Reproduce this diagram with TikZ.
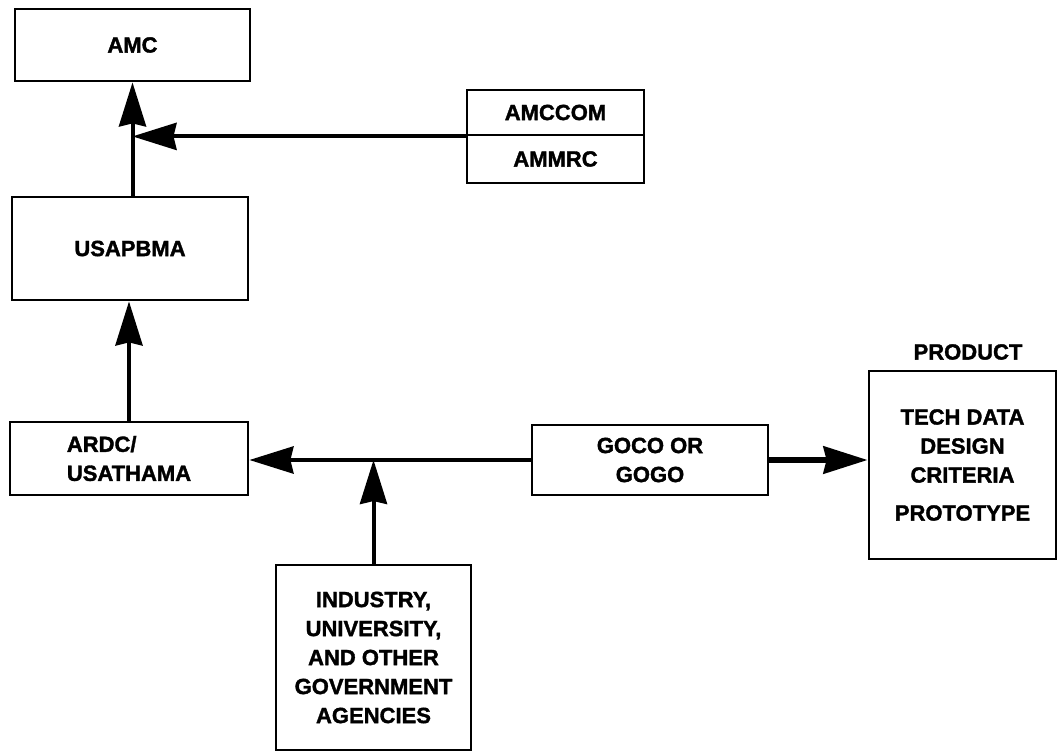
\documentclass[tikz,border=0pt]{standalone}
\usepackage{fontspec}
\setmainfont{Liberation Sans}[BoldFeatures={FakeBold=1.6}]
\usetikzlibrary{arrows.meta}
\begin{document}
\begin{tikzpicture}[x=1pt,y=-1pt,
  font=\fontsize{22}{29}\selectfont\bfseries,
  box/.style={draw, line width=2.8pt, inner sep=0pt, align=center},
  conn/.style={line width=4pt, -{Stealth[length=44pt,width=27pt,inset=3pt]}}]
\useasboundingbox (0,0) rectangle (1058,753);
\node[box, minimum width=235, minimum height=72] (amc) at (132.5,45) {AMC};
\node[box, minimum width=177, minimum height=45] (amccom) at (555.5,112.5) {AMCCOM};
\node[box, minimum width=177, minimum height=48] (ammrc) at (555.5,159) {AMMRC};
\node[box, minimum width=236, minimum height=103] (usap) at (130,248.5) {USAPBMA};
\node[box, align=left, minimum width=238, minimum height=73] (ardc) at (129,458.5) {ARDC/\\USATHAMA};
\node[box, minimum width=236, minimum height=70] (goco) at (650,460) {GOCO OR\\GOGO};
\node[box, minimum width=195, minimum height=185] (ind) at (373.5,657.5) {INDUSTRY,\\UNIVERSITY,\\AND OTHER\\GOVERNMENT\\AGENCIES};
\node[box, minimum width=187, minimum height=188] (prod) at (962.5,465) {TECH DATA\\DESIGN\\CRITERIA\\[9pt]PROTOTYPE};
\node (prodlabel) at (968,352) {PRODUCT};
\draw[conn] (usap.north -| amc.south) -- (amc.south);
\draw[conn] (amccom.south west) -- (amc.south |- amccom.south west);
\draw[conn] (ardc.north) -- (ardc.north |- usap.south);
\draw[conn] (goco.west) -- (goco.west -| ardc.east);
\draw[conn] (ind.north) -- (ind.north |- goco.west);
\draw[conn, line width=6pt] (goco.east) -- (goco.east -| prod.west);
\end{tikzpicture}
\end{document}
